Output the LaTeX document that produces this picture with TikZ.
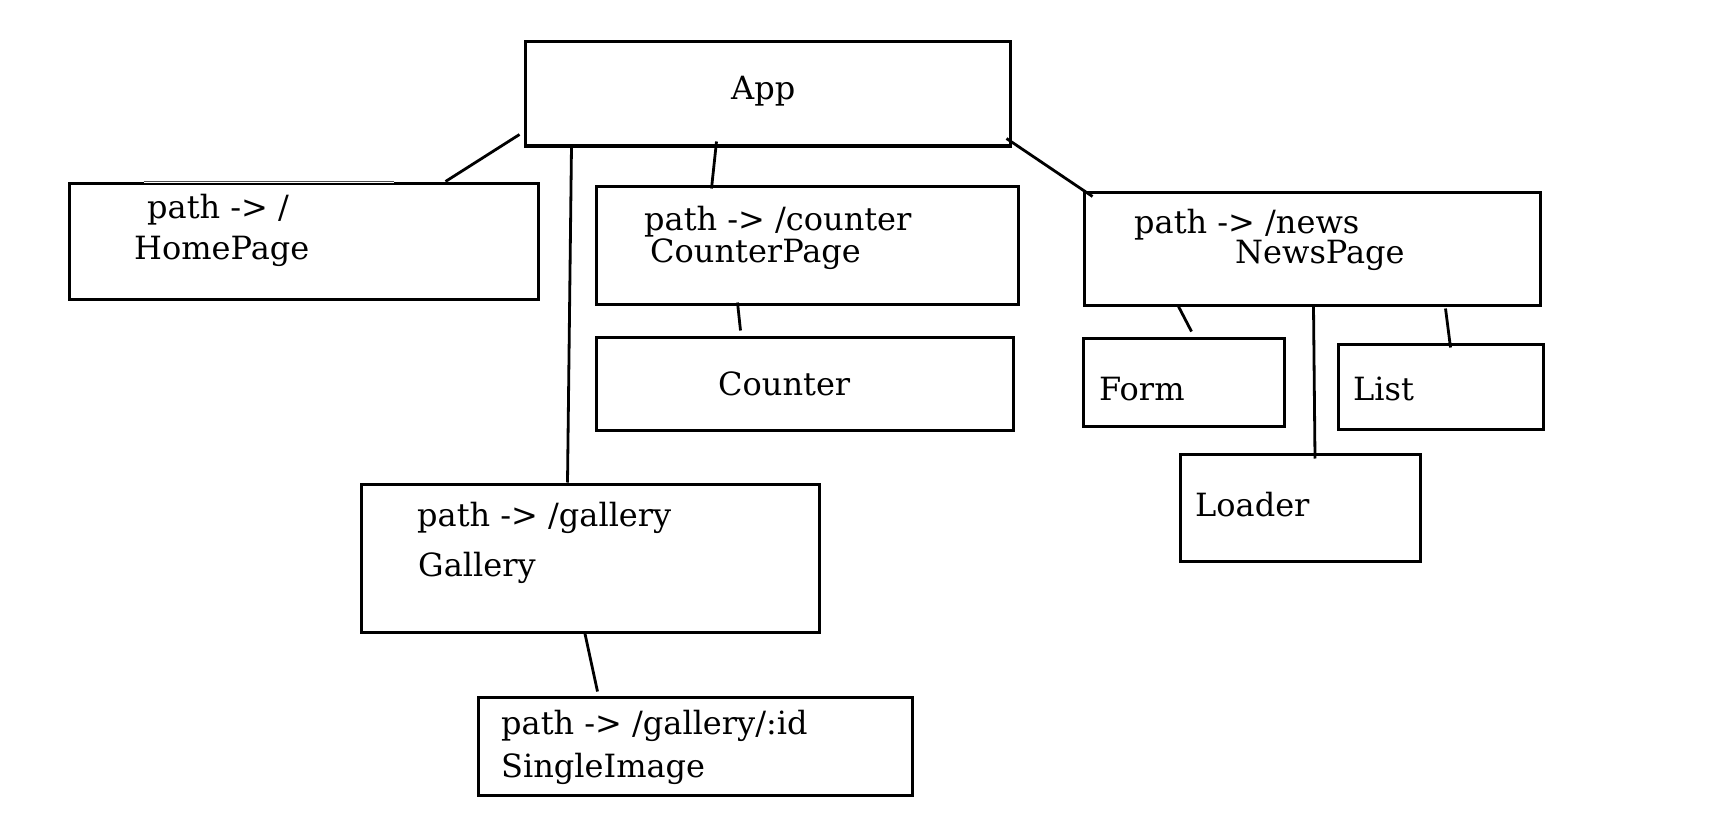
\documentclass[tikz,border=0pt]{standalone}
\usepackage{fontspec}
\setmainfont{DejaVu Serif}
\begin{document}
\begin{tikzpicture}[x=1pt,y=-1pt,
  box/.style={draw=black,line width=3pt,inner sep=0pt,rectangle},
  lbl/.style={anchor=base west,inner sep=0pt,font=\fontsize{32}{38}\selectfont},
  conn/.style={draw=black,line width=2.8pt}]
\useasboundingbox[fill=white] (0,0) rectangle (1726,824);
% boxes
\node[box,minimum width=485pt,minimum height=104pt] (app) at (767.5,94) {};
\node[box,minimum width=469pt,minimum height=116pt] (home) at (303.5,241) {};
\node[box,minimum width=422pt,minimum height=118pt] (cpage) at (807,245) {};
\node[box,minimum width=417pt,minimum height=93pt] (counter) at (804.5,383.5) {};
\node[box,minimum width=456pt,minimum height=113pt] (news) at (1312,248.5) {};
\node[box,minimum width=201pt,minimum height=88pt] (form) at (1183.5,382) {};
\node[box,minimum width=205pt,minimum height=85pt] (list) at (1440.5,386.5) {};
\node[box,minimum width=240pt,minimum height=107pt] (loader) at (1300,507.5) {};
\node[box,minimum width=458pt,minimum height=148pt] (gallery) at (590,558) {};
\node[box,minimum width=434pt,minimum height=98pt] (single) at (695,746) {};
% thin part of HomePage top edge
\draw[white,line width=3.6pt] ([xshift=76pt]home.north west) -- ([xshift=326pt]home.north west);
\draw[black!70,line width=0.8pt] ([xshift=76pt]home.north west) -- ([xshift=326pt]home.north west);
% labels
\node[lbl] (tapp) at (731,100) {App};
\node[lbl] (thome1) at (147,218) {path -> /};
\node[lbl] (thome2) at (134,259) {HomePage};
\node[lbl] (tcp1) at (644,230) {path -> /counter};
\node[lbl] (tcp2) at (650,262) {CounterPage};
\node[lbl] (tcounter) at (718,395) {Counter};
\node[lbl] (tnews1) at (1134,233) {path -> /news};
\node[lbl] (tnews2) at (1235,263) {NewsPage};
\node[lbl] (tform) at (1099,400) {Form};
\node[lbl] (tlist) at (1353,400) {List};
\node[lbl] (tloader) at (1195,516) {Loader};
\node[lbl] (tgal1) at (417,526) {path -> /gallery};
\node[lbl] (tgal2) at (418,576) {Gallery};
\node[lbl] (tsing1) at (501,734) {path -> /gallery/:id};
\node[lbl] (tsing2) at (501,777) {SingleImage};
% connectors
\draw[conn] ([shift={(-4,-13)}]app.south west) -- ([shift={(378,0)}]home.north west);
\draw[conn] ([shift={(48,-2)}]app.south west) -- ([shift={(208,0)}]gallery.north west);
\draw[conn] ([shift={(193,-6)}]app.south west) -- ([shift={(117,4)}]cpage.north west);
\draw[conn] ([shift={(143,-3)}]cpage.south west) -- ([shift={(146,-5)}]counter.north west);
\draw[conn] ([shift={(-5,-9)}]app.south east) -- ([shift={(10,6)}]news.north west);
\draw[conn] ([shift={(96,0)}]news.south west) -- ([shift={(110,-5)}]form.north west);
\draw[conn] ([shift={(231,0)}]news.south west) -- ([shift={(136.5,6)}]loader.north west);
\draw[conn] ([shift={(363,2)}]news.south west) -- ([shift={(114,5)}]list.north west);
\draw[conn] ([shift={(225,-2)}]gallery.south west) -- ([shift={(121,-4)}]single.north west);
\end{tikzpicture}
\end{document}
